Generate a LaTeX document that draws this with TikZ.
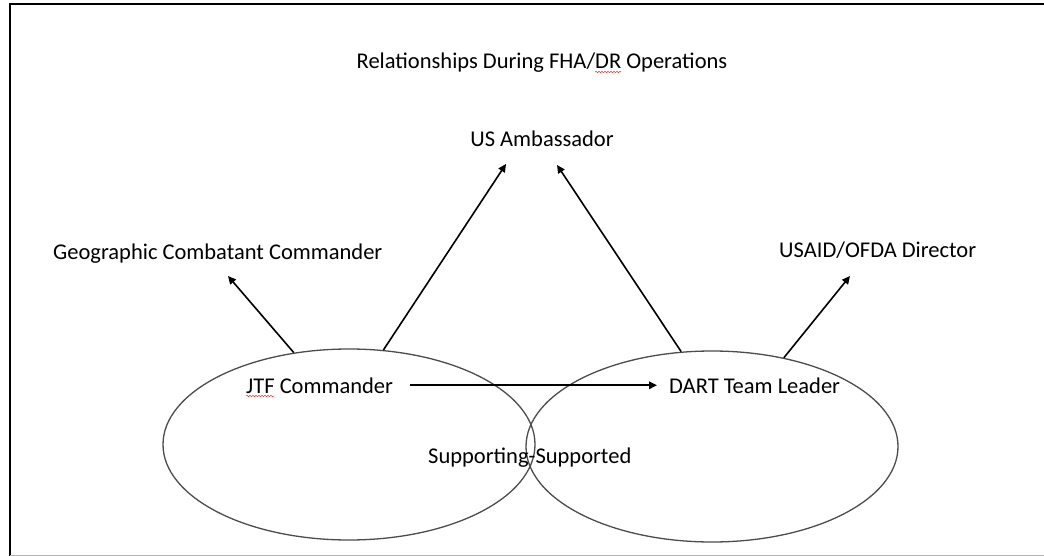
\documentclass[tikz,border=0pt]{standalone}
\usepackage{fontspec}
\setmainfont{Carlito}
\usetikzlibrary{shapes.geometric,arrows.meta,decorations.pathmorphing}
\newlength\jtfwd
\newlength\drwd
\newlength\drskip
\settowidth\jtfwd{\fontsize{22.5}{27}\selectfont JTF}
\settowidth\drwd{\fontsize{22.5}{27}\selectfont DR}
\settowidth\drskip{\fontsize{22.5}{27}\selectfont Relationships During FHA/}

\begin{document}
\begin{tikzpicture}[x=1pt,y=-1pt,
	lbl/.style={inner sep=0pt,font=\fontsize{22.5}{27}\selectfont,text=black},
	role/.style={ellipse,draw=black!70,line width=1.3pt,minimum width=372pt,minimum height=191pt,inner sep=0pt},
	rel/.style={line width=1.6pt,-{Triangle[length=8pt,width=7.5pt]}},
	spell/.style={red!80,line width=0.5pt,decorate,decoration={snake,amplitude=0.7pt,segment length=3pt}}]
			\useasboundingbox (0,0) rectangle (1044,556);
			
			% frame
			\draw[line width=2pt] (10,556) -- (10,4) -- (1044,4);
			\draw[black!30,line width=1pt] (10,555) -- (1044,555);
			
			% the two ellipses
			\node[role] (jtfarea) at (349,444.5) {};
			\node[role] (dartarea) at (712,446.5) {};
			
			\node[lbl,anchor=base] (title) at (542,69) {Relationships During FHA/DR Operations};
			\node[lbl,anchor=base] (amb) at (542,147) {US Ambassador};
			\node[lbl,anchor=base west] (gcc) at (53,259) {Geographic Combatant Commander};
			\node[lbl,anchor=base west] (usaid) at (779,258) {USAID/OFDA Director};
			\node[lbl,anchor=base west] (jtf) at (246,393) {JTF Commander};
			\node[lbl,anchor=base west] (dart) at (669,393) {DART Team Leader};
			\node[lbl,anchor=base west] (supp) at (428,463) {Supporting-Supported};
			
			% spelling marks
			\draw[spell] ([yshift=-3pt]jtf.base west) -- ++(\jtfwd,0);
			\draw[spell] ([xshift=\drskip,yshift=-3pt]title.base west) -- ++(\drwd,0);
			
			\coordinate (gcctip) at (228,276);
			\coordinate (ambtipl) at (506,164);
			\coordinate (ambtipr) at (557,165);
			\coordinate (usaidtip) at (850,276);
			
			\draw[rel] (jtfarea.121.6) -- (gcctip);
			\draw[rel] (jtfarea.70.2) -- (ambtipl);
			\draw[rel] (dartarea.108.7) -- (ambtipr);
			\draw[rel] (dartarea.51.4) -- (usaidtip);
			\draw[rel,shorten <=17pt,shorten >=12pt] (jtf.east) -- (dart.west);
\end{tikzpicture}
\end{document}
